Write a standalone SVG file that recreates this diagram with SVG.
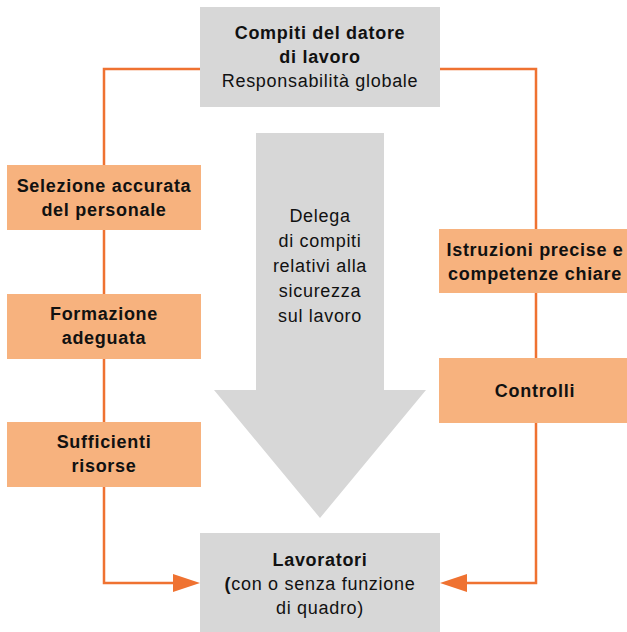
<svg xmlns="http://www.w3.org/2000/svg" width="627" height="632" viewBox="0 0 627 632">
<style>
.gray{fill:#d7d7d7}
.orange{fill:#f7b27e}
.t{font-family:"Liberation Sans",Arial,sans-serif;font-size:18px;letter-spacing:0.7px;fill:#111;text-anchor:middle}
.b{font-weight:bold}
.line{fill:none;stroke:#ef7231;stroke-width:2.5}
</style>
<rect width="627" height="632" fill="#fff"/>
<g id="connectors">
<polyline class="line" points="200,69 104,69 104,583 175,583"/>
<polygon points="200,583 173,574 173,592" fill="#ef7231"/>
<polyline class="line" points="440,69 536,69 536,583 465,583"/>
<polygon points="440,583 467,574 467,592" fill="#ef7231"/>
</g>
<g id="delega">
<polygon class="gray" points="256,133 384,133 384,390 426,390 320,518 214,390 256,390"/>
<text class="t" x="320" y="222">Delega</text>
<text class="t" x="320" y="247">di compiti</text>
<text class="t" x="320" y="272">relativi alla</text>
<text class="t" x="320" y="297">sicurezza</text>
<text class="t" x="320" y="322">sul lavoro</text>
</g>
<g id="datore">
<rect class="gray" x="200" y="7" width="240" height="100"/>
<text class="t b" x="320" y="39">Compiti del datore</text>
<text class="t b" x="320" y="63">di lavoro</text>
<text class="t" x="320" y="87">Responsabilità globale</text>
</g>
<g id="selezione">
<rect class="orange" x="7" y="165" width="194" height="65"/>
<text class="t b" x="104" y="192">Selezione accurata</text>
<text class="t b" x="104" y="216">del personale</text>
</g>
<g id="formazione">
<rect class="orange" x="7" y="294" width="194" height="65"/>
<text class="t b" x="104" y="320">Formazione</text>
<text class="t b" x="104" y="344">adeguata</text>
</g>
<g id="risorse">
<rect class="orange" x="7" y="422" width="194" height="65"/>
<text class="t b" x="104" y="448">Sufficienti</text>
<text class="t b" x="104" y="472">risorse</text>
</g>
<g id="istruzioni">
<rect class="orange" x="439" y="229" width="188" height="64"/>
<text class="t b" x="535" y="256">Istruzioni precise e</text>
<text class="t b" x="535" y="280">competenze chiare</text>
</g>
<g id="controlli">
<rect class="orange" x="439" y="358" width="188" height="65"/>
<text class="t b" x="535" y="397">Controlli</text>
</g>
<g id="lavoratori">
<rect class="gray" x="200" y="533" width="240" height="99"/>
<text class="t b" x="320" y="566">Lavoratori</text>
<text class="t" x="320" y="590"><tspan class="b">(</tspan>con o senza funzione</text>
<text class="t" x="320" y="614">di quadro)</text>
</g>
</svg>
